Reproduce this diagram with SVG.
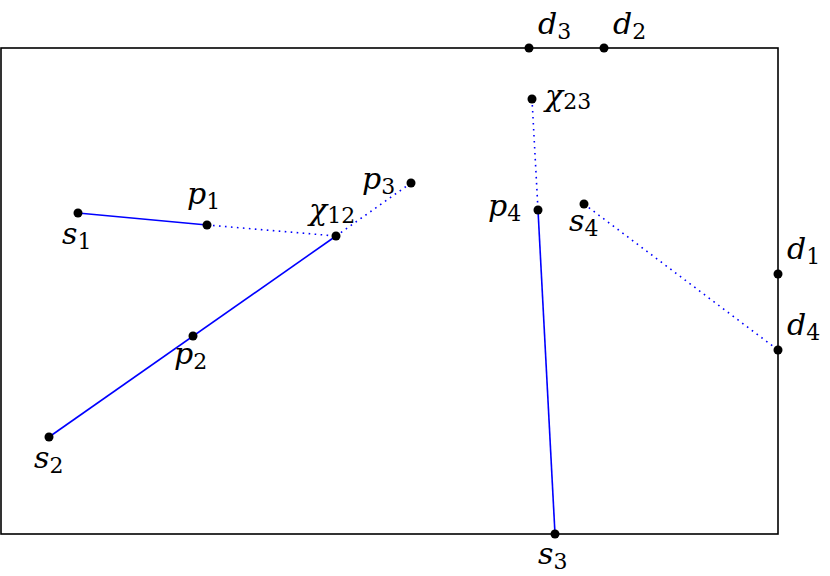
<svg xmlns="http://www.w3.org/2000/svg" width="830" height="576" viewBox="0 0 830 576">
<style>
.frame{fill:none;stroke:#000;stroke-width:1.6}
.solid{stroke:#0000ff;stroke-width:1.6;fill:none}
.dot{stroke:#0000ff;stroke-width:1.6;fill:none;stroke-dasharray:1.6 4.4}
.pt{fill:#000}
.lbl{font-family:"DejaVu Serif",serif;font-size:30px;font-style:italic;fill:#000}
.sub{font-size:22px;font-style:normal}
</style>
<rect width="830" height="576" fill="#fff"/>
<rect class="frame" x="1" y="48" width="777" height="486"/>
<g id="connectors">
<line class="solid" x1="78" y1="213" x2="207" y2="225"/>
<line class="dot" x1="207" y1="225" x2="336" y2="236"/>
<line class="dot" x1="336" y1="236" x2="411" y2="183"/>
<line class="solid" x1="49" y1="437" x2="336" y2="236"/>
<line class="dot" x1="532" y1="99" x2="538" y2="210"/>
<line class="solid" x1="538" y1="210" x2="555" y2="534"/>
<line class="dot" x1="584" y1="204" x2="778" y2="350"/>
</g>
<g id="d3"><circle class="pt" cx="529" cy="48" r="4.5"/><text class="lbl" x="538" y="34">d<tspan class="sub" dy="5">3</tspan></text></g>
<g id="d2"><circle class="pt" cx="604" cy="48" r="4.5"/><text class="lbl" x="613" y="34">d<tspan class="sub" dy="5">2</tspan></text></g>
<g id="chi23"><circle class="pt" cx="532" cy="99" r="4.5"/><text class="lbl" x="545" y="106">χ<tspan class="sub" dy="3">23</tspan></text></g>
<g id="s1"><circle class="pt" cx="78" cy="213" r="4.5"/><text class="lbl" x="62" y="244">s<tspan class="sub" dy="5">1</tspan></text></g>
<g id="p1"><circle class="pt" cx="207" cy="225" r="4.5"/><text class="lbl" x="187" y="204">p<tspan class="sub" dy="5">1</tspan></text></g>
<g id="chi12"><circle class="pt" cx="336" cy="236" r="4.5"/><text class="lbl" x="309" y="220">χ<tspan class="sub" dy="3">12</tspan></text></g>
<g id="p3"><circle class="pt" cx="411" cy="183" r="4.5"/><text class="lbl" x="362" y="189">p<tspan class="sub" dy="5">3</tspan></text></g>
<g id="p2"><circle class="pt" cx="193" cy="336" r="4.5"/><text class="lbl" x="174" y="364">p<tspan class="sub" dy="5">2</tspan></text></g>
<g id="s2"><circle class="pt" cx="49" cy="437" r="4.5"/><text class="lbl" x="34" y="468">s<tspan class="sub" dy="5">2</tspan></text></g>
<g id="p4"><circle class="pt" cx="538" cy="210" r="4.5"/><text class="lbl" x="488" y="216">p<tspan class="sub" dy="5">4</tspan></text></g>
<g id="s4"><circle class="pt" cx="584" cy="204" r="4.5"/><text class="lbl" x="569" y="231">s<tspan class="sub" dy="5">4</tspan></text></g>
<g id="d1"><circle class="pt" cx="778" cy="274" r="4.5"/><text class="lbl" x="787" y="259">d<tspan class="sub" dy="5">1</tspan></text></g>
<g id="d4"><circle class="pt" cx="778" cy="350" r="4.5"/><text class="lbl" x="787" y="335">d<tspan class="sub" dy="5">4</tspan></text></g>
<g id="s3"><circle class="pt" cx="555" cy="534" r="4.5"/><text class="lbl" x="538" y="564">s<tspan class="sub" dy="5">3</tspan></text></g>
</svg>
